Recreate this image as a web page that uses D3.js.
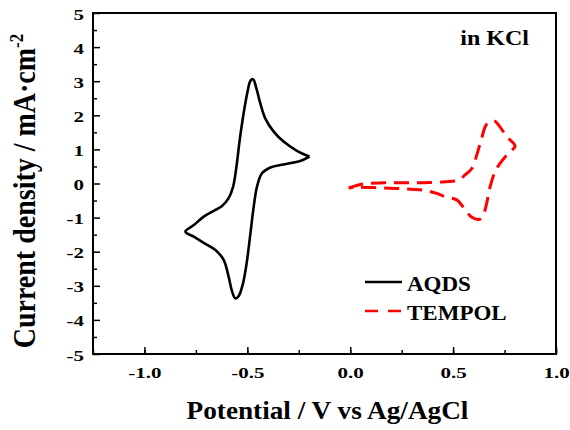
<!DOCTYPE html>
<html>
<head>
<meta charset="utf-8">
<script src="https://cdn.jsdelivr.net/npm/d3@7"></script>
<style>
    body { margin: 0; background: #fff; }
    text { font-family: "Liberation Serif", "Times New Roman", serif; font-weight: bold; }
</style>
</head>
<body>
<div id="chart"></div>
<script>
// cyclic voltammograms
const aqds_potential = [-0.198, -0.243, -0.324, -0.388, -0.429, -0.453, -0.469, -0.485, -0.501, -0.521, -0.542, -0.558,
    -0.574, -0.591, -0.615, -0.655, -0.712, -0.760, -0.801,
    -0.760, -0.712, -0.663, -0.623, -0.591, -0.569, -0.553, -0.537, -0.518, -0.499, -0.485, -0.472,
    -0.456, -0.437, -0.413, -0.372, -0.324, -0.259, -0.198];
const aqds_current = [0.79, 0.66, 0.56, 0.47, 0.30, -0.09, -0.68, -1.46, -2.24, -2.93, -3.30, -3.37,
    -3.17, -2.73, -2.24, -1.95, -1.74, -1.56, -1.41,
    -1.22, -0.97, -0.80, -0.66, -0.43, -0.09, 0.49, 1.28, 2.06, 2.69, 3.01, 3.06,
    2.79, 2.35, 1.91, 1.52, 1.23, 0.96, 0.79];

const tempol_potential = [-0.008, 0.065, 0.162, 0.227, 0.324, 0.388, 0.461, 0.526, 0.558, 0.591, 0.615, 0.639, 0.663, 0.699,
    0.744, 0.769, 0.801,
    0.769, 0.728, 0.704, 0.680, 0.663, 0.644, 0.628, 0.591, 0.550, 0.518, 0.461, 0.421, 0.348, 0.275, 0.194, 0.113, 0.032, -0.008];
const tempol_current = [-0.13, -0.01, 0.02, 0.02, 0.02, 0.03, 0.05, 0.10, 0.25, 0.44, 0.84, 1.33, 1.74, 1.84,
    1.52, 1.33, 1.10,
    0.89, 0.59, 0.35, -0.09, -0.58, -0.97, -1.05, -0.99, -0.70, -0.48, -0.39, -0.29, -0.19, -0.16, -0.14, -0.12, -0.11, -0.13];

const x_ticks = [-1.0, -0.5, 0.0, 0.5, 1.0];
const y_ticks = [-5, -4, -3, -2, -1, 0, 1, 2, 3, 4, 5];

const series_names = ["AQDS", "TEMPOL"];

const width = 570;
const height = 430;
const margin = { top: 13, right: 14, bottom: 76, left: 93 };
const inner_width = width - margin.left - margin.right;
const inner_height = height - margin.top - margin.bottom;

// the tick labels in the original are drawn wide
const tick_stretch = 1.4;

const svg = d3.select("#chart").append("svg")
    .attr("width", width)
    .attr("height", height);

const g = svg.append("g")
    .attr("transform", `translate(${margin.left},${margin.top})`);

const x = d3.scaleLinear().domain([-1.25, 1.0]).range([0, inner_width]);
const y = d3.scaleLinear().domain([-5, 5]).range([inner_height, 0]);

// minor ticks first, majors on top
g.append("g")
    .attr("transform", `translate(0,${inner_height})`)
    .call(d3.axisBottom(x).tickValues(d3.range(-1.25, 1.01, 0.25)).tickSize(-4).tickFormat(""))
    .call(a => a.select(".domain").remove())
    .selectAll("line").attr("stroke-width", 1.5);

g.append("g")
    .call(d3.axisLeft(y).tickValues(d3.range(-4.5, 5, 1)).tickSize(-4).tickFormat(""))
    .call(a => a.select(".domain").remove())
    .selectAll("line").attr("stroke-width", 1.5);

const x_axis = g.append("g")
    .attr("transform", `translate(0,${inner_height})`)
    .call(d3.axisBottom(x).tickValues(x_ticks).tickSize(-7).tickPadding(13));
x_axis.select(".domain").remove();
x_axis.selectAll("line").attr("stroke-width", 1.5);
x_axis.selectAll("text")
    .style("font-size", "15px")
    .attr("fill", "#000")
    .attr("transform", `scale(${tick_stretch},1)`)
    .text(d => d3.format(".1f")(d).replace("−", "-"));

const y_axis = g.append("g")
    .call(d3.axisLeft(y).tickValues(y_ticks).tickSize(-7));
y_axis.select(".domain").remove();
y_axis.selectAll("line").attr("stroke-width", 1.5);
y_axis.selectAll("text")
    .style("font-size", "15px")
    .attr("fill", "#000")
    .attr("x", -9 / tick_stretch)
    .attr("dy", "0.4em")
    .attr("transform", `scale(${tick_stretch},1)`)
    .text(d => String(d));

// frame
g.append("rect")
    .attr("width", inner_width)
    .attr("height", inner_height)
    .attr("fill", "none")
    .attr("stroke", "#000")
    .attr("stroke-width", 2);

const line = d3.line()
    .x(d => x(d[0]))
    .y(d => y(d[1]))
    .curve(d3.curveCatmullRom.alpha(0.5));

g.append("path")
    .datum(d3.zip(aqds_potential, aqds_current))
    .attr("d", line)
    .attr("fill", "none")
    .attr("stroke", "#000")
    .attr("stroke-width", 2.6);

g.append("path")
    .datum(d3.zip(tempol_potential, tempol_current))
    .attr("d", line)
    .attr("fill", "none")
    .attr("stroke", "#ff0000")
    .attr("stroke-width", 3)
    .attr("stroke-dasharray", "15,8");

// labels
svg.append("text")
    .attr("transform", `translate(${margin.left + inner_width / 2 + 3},419) scale(1.09,1)`)
    .attr("text-anchor", "middle")
    .style("font-size", "25px")
    .text("Potential / V vs Ag/AgCl");

const y_label = svg.append("text")
    .attr("transform", "translate(35,191) rotate(-90) scale(1,1.1)")
    .attr("text-anchor", "middle")
    .style("font-size", "28px");
y_label.append("tspan").text("Current density / mA·cm");
y_label.append("tspan").attr("dy", -11).style("font-size", "17px").text("-2");

svg.append("text")
    .attr("transform", "translate(529,45) scale(1.2,1)")
    .attr("text-anchor", "end")
    .style("font-size", "20px")
    .text("in KCl");

// legend
const legend = svg.append("g").attr("transform", "translate(365,282)");
const legend_styles = [
    { color: "#000", dash: null },
    { color: "#ff0000", dash: "13,10" }
];
series_names.forEach((name, i) => {
    const row = legend.append("g").attr("transform", `translate(0,${i * 29})`);
    row.append("line")
        .attr("x1", 0).attr("x2", 37)
        .attr("stroke", legend_styles[i].color)
        .attr("stroke-width", 2.6)
        .attr("stroke-dasharray", legend_styles[i].dash);
    row.append("text")
        .attr("transform", "translate(42,3) scale(1.15,1)")
        .attr("y", 0)
        .attr("dy", "0.3em")
        .style("font-size", "20px")
        .text(name);
});
</script>
</body>
</html>
